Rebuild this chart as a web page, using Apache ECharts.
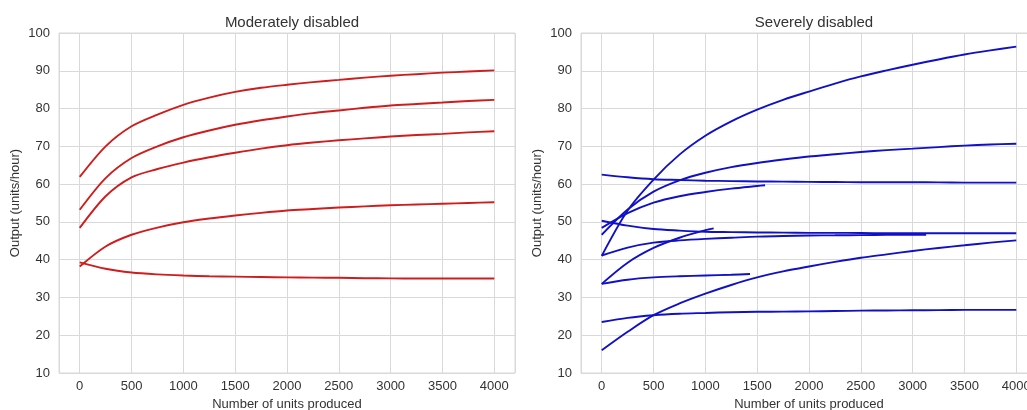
<!DOCTYPE html>
<html>
<head>
<meta charset="utf-8">
<script src="https://cdn.jsdelivr.net/npm/echarts@6/dist/echarts.min.js"></script>
<style>
html,body{margin:0;padding:0;background:#fff;}
#c{width:1027px;height:410px;}
</style>
</head>
<body>
<div id="c"></div>
<script>
// ---- titles / axis names ----
const panelTitles = ['Moderately disabled', 'Severely disabled'];
const xName = 'Number of units produced';
const yName = 'Output (units/hour)';

// ---- Moderately disabled (red) ----
const xFull = [0, 250, 500, 750, 1000, 1250, 1500, 1750, 2000, 2250, 2500, 2750, 3000, 3250, 3500, 3750, 4000];
const mod1 = [61.9, 70.0, 75.3, 78.4, 81.0, 82.9, 84.4, 85.5, 86.3, 87.0, 87.6, 88.2, 88.7, 89.1, 89.5, 89.8, 90.1];
const mod2 = [53.2, 61.6, 66.9, 70.0, 72.4, 74.2, 75.7, 76.9, 77.9, 78.8, 79.5, 80.2, 80.8, 81.2, 81.6, 82.0, 82.3];
const mod3 = [48.4, 56.8, 61.8, 64.0, 65.7, 67.1, 68.3, 69.4, 70.3, 71.0, 71.6, 72.1, 72.6, 73.0, 73.3, 73.7, 74.0];
const mod4 = [38.2, 43.5, 46.6, 48.5, 49.9, 50.9, 51.7, 52.4, 53.0, 53.4, 53.8, 54.1, 54.4, 54.6, 54.8, 55.0, 55.2];
const mod5 = [39.3, 37.6, 36.6, 36.1, 35.8, 35.6, 35.5, 35.4, 35.3, 35.25, 35.2, 35.1, 35.05, 35.0, 35.0, 35.0, 35.0];

// ---- Severely disabled (blue) ----
const sevA = [41.0, 53.0, 61.2, 67.8, 72.8, 76.6, 79.7, 82.3, 84.5, 86.6, 88.5, 90.1, 91.6, 93.0, 94.3, 95.4, 96.4];
const sevB = [46.6, 53.3, 58.0, 61.0, 63.0, 64.5, 65.6, 66.5, 67.3, 67.9, 68.5, 69.0, 69.4, 69.8, 70.2, 70.5, 70.7];
const sevC = [62.5, 61.8, 61.3, 61.1, 60.9, 60.8, 60.7, 60.65, 60.6, 60.55, 60.5, 60.5, 60.5, 60.45, 60.4, 60.4, 60.4];
const sevE = [50.3, 49.0, 48.1, 47.7, 47.4, 47.3, 47.2, 47.15, 47.1, 47.1, 47.05, 47.0, 47.0, 47.0, 47.0, 47.0, 47.0];
const sevI = [16.0, 20.9, 25.3, 28.4, 31.0, 33.3, 35.3, 36.9, 38.2, 39.4, 40.5, 41.4, 42.3, 43.1, 43.8, 44.5, 45.1];
const sevJ = [23.5, 24.6, 25.3, 25.7, 25.9, 26.1, 26.2, 26.25, 26.3, 26.4, 26.5, 26.55, 26.6, 26.65, 26.7, 26.7, 26.7];
const xSevD = [0, 250, 500, 750, 1000, 1250, 1500, 1576];
const sevD = [48.4, 52.3, 55.1, 56.8, 57.9, 58.8, 59.5, 59.7];
const xSevF = [0, 250, 500, 750, 1000, 1250, 1500, 1750, 2000, 2250, 2500, 2750, 3000, 3130];
const sevF = [41.1, 43.2, 44.5, 45.1, 45.5, 45.8, 46.1, 46.25, 46.4, 46.45, 46.5, 46.55, 46.6, 46.6];
const xSevG = [0, 250, 500, 750, 1000, 1080];
const sevG = [33.6, 39.2, 43.1, 45.8, 47.8, 48.3];
const xSevH = [0, 250, 500, 750, 1000, 1250, 1431];
const sevH = [33.6, 34.7, 35.3, 35.6, 35.8, 36.0, 36.2];

const redColor = '#d01c1c';
const blueColor = '#1010c8';

function pairs(xs, ys) { return xs.map((x, i) => [x, ys[i]]); }

const leftSeries = [mod1, mod2, mod3, mod4, mod5].map(ys => ({ xs: xFull, ys }));
const rightSeries = [
  { xs: xFull, ys: sevA }, { xs: xFull, ys: sevB }, { xs: xFull, ys: sevC },
  { xs: xSevD, ys: sevD }, { xs: xFull, ys: sevE }, { xs: xSevF, ys: sevF },
  { xs: xSevG, ys: sevG }, { xs: xSevH, ys: sevH }, { xs: xFull, ys: sevI },
  { xs: xFull, ys: sevJ }
];

const textColor = '#333';
const font = 'Liberation Sans, Arial, sans-serif';
const gridColor = '#d9d9d9';

function xAxisCfg(gi) {
  return {
    type: 'value', gridIndex: gi, min: -200, max: 4200, splitNumber: 9,
    name: xName, nameLocation: 'middle', nameGap: 23,
    nameTextStyle: { color: textColor, fontSize: 13, fontFamily: font },
    axisLine: { show: false }, axisTick: { show: false },
    axisLabel: { color: textColor, fontSize: 13, fontFamily: font, margin: 7,
      showMinLabel: false, showMaxLabel: false, formatter: v => String(v) },
    splitLine: { show: true, lineStyle: { color: gridColor, width: 1 } }
  };
}
function yAxisCfg(gi) {
  return {
    type: 'value', gridIndex: gi, min: 10, max: 100, interval: 10,
    name: yName, nameLocation: 'middle', nameGap: 37,
    nameTextStyle: { color: textColor, fontSize: 13, fontFamily: font },
    axisLine: { show: false }, axisTick: { show: false },
    axisLabel: { color: textColor, fontSize: 13, fontFamily: font, margin: 9, formatter: v => String(v) },
    splitLine: { show: true, lineStyle: { color: gridColor, width: 1 } }
  };
}

const series = [];
leftSeries.forEach(s => series.push({
  type: 'line', xAxisIndex: 0, yAxisIndex: 0, data: pairs(s.xs, s.ys),
  smooth: 0.3, symbol: 'none', lineStyle: { color: redColor, width: 1.9 }, silent: true
}));
rightSeries.forEach(s => series.push({
  type: 'line', xAxisIndex: 1, yAxisIndex: 1, data: pairs(s.xs, s.ys),
  smooth: 0.3, symbol: 'none', lineStyle: { color: blueColor, width: 1.9 }, silent: true
}));

const chart = echarts.init(document.getElementById('c'), null, { renderer: 'canvas' });
chart.setOption({
  animation: false,
  backgroundColor: '#ffffff',
  title: [
    { text: panelTitles[0], left: 287, top: 10, textAlign: 'center',
      textStyle: { color: textColor, fontSize: 15, fontWeight: 'normal', fontFamily: font } },
    { text: panelTitles[1], left: 809, top: 10, textAlign: 'center',
      textStyle: { color: textColor, fontSize: 15, fontWeight: 'normal', fontFamily: font } }
  ],
  grid: [
    { left: 59, width: 456, top: 33, height: 340, outerBoundsMode: 'none', containLabel: false,
      show: true, borderColor: gridColor, borderWidth: 1, backgroundColor: '#fff' },
    { left: 581, width: 456, top: 33, height: 340, outerBoundsMode: 'none', containLabel: false,
      show: true, borderColor: gridColor, borderWidth: 1, backgroundColor: '#fff' }
  ],
  xAxis: [xAxisCfg(0), xAxisCfg(1)],
  yAxis: [yAxisCfg(0), yAxisCfg(1)],
  series
});
</script>
</body>
</html>
